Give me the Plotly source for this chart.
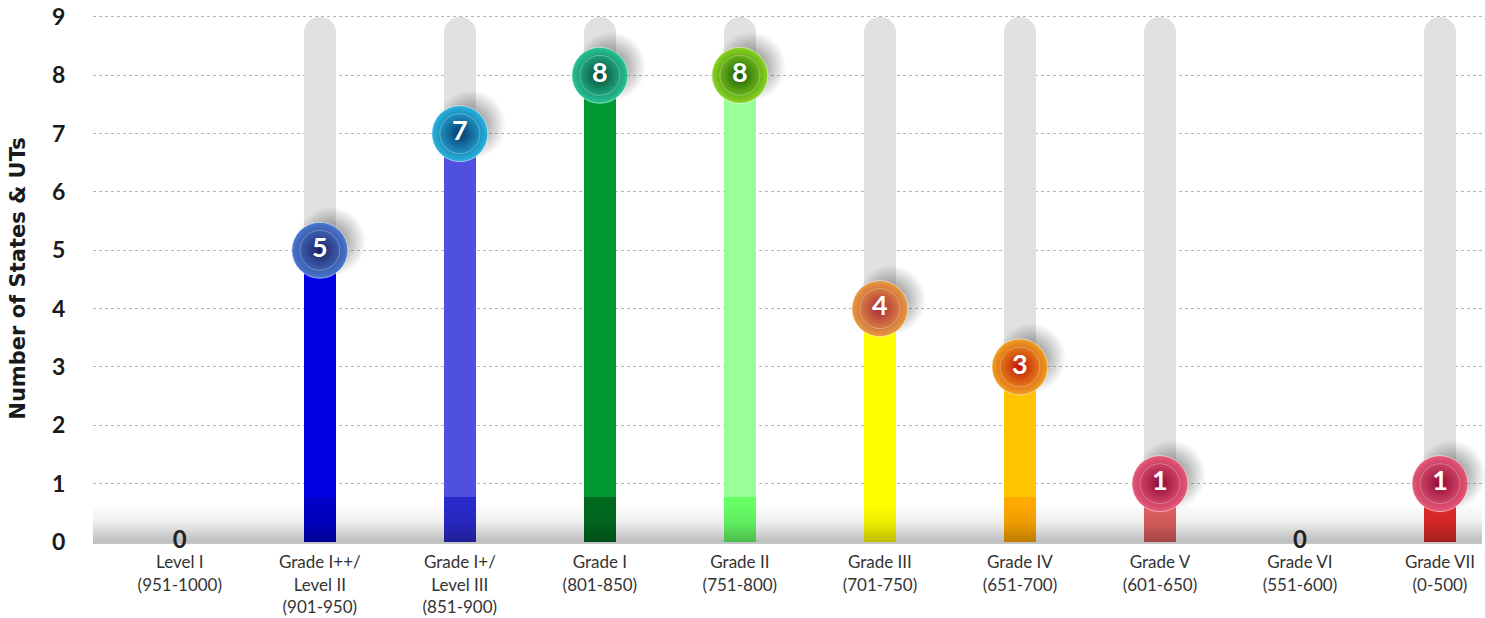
import plotly.graph_objects as go

# ---------------- data ----------------
categories = [
    "Level I<br>(951-1000)",
    "Grade I++/<br>Level II<br>(901-950)",
    "Grade I+/<br>Level III<br>(851-900)",
    "Grade I<br>(801-850)",
    "Grade II<br>(751-800)",
    "Grade III<br>(701-750)",
    "Grade IV<br>(651-700)",
    "Grade V<br>(601-650)",
    "Grade VI<br>(551-600)",
    "Grade VII<br>(0-500)",
]
values = [0, 5, 7, 8, 8, 4, 3, 1, 0, 1]
y_ticks = [0, 1, 2, 3, 4, 5, 6, 7, 8, 9]

# ---------------- styles ----------------
bar_colors = ["#0000e0", "#0000e0", "#5050e0", "#009933", "#99ff99",
              "#ffff00", "#ffc400", "#e86464", "#e03030", "#e83030"]
bottom_colors = ["#0000c8", "#0000c8", "#2a2acc", "#006b1f", "#66ff66",
                 "#ffff00", "#ffa800", "#e06060", "#e02a2a", "#e02a2a"]
ball_center = ["#1b2060", "#1b2060", "#06386e", "#064a34", "#165a04",
               "#a8283e", "#c01408", "#900836", "#900836", "#900836"]
ball_edge = ["#4a78d0", "#4a78d0", "#28b4e0", "#26c494", "#8ad422",
             "#e89a40", "#f0a020", "#e65a78", "#e65a78", "#e65a78"]

Y_MAX = 9
Y_TOP = 9.034
BAR_W = 0.228
BOTTOM_SEG = 0.78
BAND_TOP = 0.67
X_RANGE = [-0.62, 9.3]
FONT = "Lato"

n = len(categories)
xs = list(range(n))
nz = [i for i in xs if values[i] > 0]
zero = [i for i in xs if values[i] == 0]

fig = go.Figure()

# gray tracks
fig.add_trace(go.Bar(
    x=nz, y=[Y_MAX for _ in nz], width=BAR_W,
    marker=dict(color="#e1e1e1", cornerradius=16, line=dict(width=0)),
    hoverinfo="skip", showlegend=False))

# coloured bars
fig.add_trace(go.Bar(
    x=nz, y=[values[i] for i in nz], width=BAR_W,
    marker=dict(color=[bar_colors[i] for i in nz], line=dict(width=0)),
    hoverinfo="skip", showlegend=False))

# darker bottom segment
fig.add_trace(go.Bar(
    x=nz, y=[min(values[i], BOTTOM_SEG) for i in nz], width=BAR_W,
    marker=dict(color=[bottom_colors[i] for i in nz], line=dict(width=0)),
    hoverinfo="skip", showlegend=False))

# bottom gray gradient band
fig.add_trace(go.Scatter(
    x=[X_RANGE[0], X_RANGE[1], X_RANGE[1], X_RANGE[0], X_RANGE[0]],
    y=[0, 0, BAND_TOP, BAND_TOP, 0],
    mode="lines", line=dict(width=0), fill="toself",
    fillgradient=dict(type="vertical", start=0, stop=BAND_TOP,
                      colorscale=[[0, "rgba(0,0,0,0.26)"], [0.5, "rgba(0,0,0,0.07)"],
                                  [1, "rgba(0,0,0,0)"]]),
    hoverinfo="skip", showlegend=False))

# soft shadows of balls (radial: marker.color = rim, gradient.color = centre)
fig.add_trace(go.Scatter(
    x=[i + 0.08 for i in nz], y=[values[i] + 0.15 for i in nz], mode="markers",
    marker=dict(size=70, color="rgba(0,0,0,0)",
                gradient=dict(type="radial", color="rgba(0,0,0,0.55)"),
                line=dict(width=0)),
    hoverinfo="skip", showlegend=False, cliponaxis=False))

# balls
fig.add_trace(go.Scatter(
    x=nz, y=[values[i] for i in nz], mode="markers+text",
    marker=dict(size=56, color=[ball_edge[i] for i in nz],
                gradient=dict(type="radial", color=[ball_center[i] for i in nz]),
                line=dict(width=1, color="rgba(255,255,255,0.5)")),
    text=[str(values[i]) for i in nz], textposition="middle center",
    textfont=dict(family=FONT, size=27, color="white", weight="bold"),
    hoverinfo="skip", showlegend=False, cliponaxis=False))

# inner ring
fig.add_trace(go.Scatter(
    x=nz, y=[values[i] for i in nz], mode="markers",
    marker=dict(size=40, color="rgba(0,0,0,0)",
                line=dict(width=1, color="rgba(255,255,255,0.28)")),
    hoverinfo="skip", showlegend=False, cliponaxis=False))

# zero labels
fig.add_trace(go.Scatter(
    x=zero, y=[values[i] for i in zero], mode="text",
    text=[str(values[i]) for i in zero], textposition="middle center",
    textfont=dict(family=FONT, size=24, color="#222", weight="bold"),
    hoverinfo="skip", showlegend=False, cliponaxis=False))

fig.update_layout(
    width=1485, height=618,
    margin=dict(l=93, r=3, t=15, b=76),
    paper_bgcolor="white", plot_bgcolor="white",
    barmode="overlay", bargap=0,
    font=dict(family=FONT),
    xaxis=dict(
        range=X_RANGE, tickvals=xs, ticktext=categories,
        tickfont=dict(family=FONT, size=17, color="#333"),
        showgrid=False, zeroline=False,
        showline=True, linecolor="#c4c4c4", linewidth=2,
        ticks="outside", ticklen=4, tickcolor="rgba(0,0,0,0)",
        layer="below traces",
        automargin=False, fixedrange=True),
    yaxis=dict(
        range=[0, Y_TOP], tickvals=y_ticks,
        tickfont=dict(family=FONT, size=23, color="#1a1a1a", weight="bold"),
        showgrid=True, gridcolor="#b4b4b4", griddash="dot", gridwidth=1,
        zeroline=False, showline=False,
        ticks="outside", ticklen=22, tickcolor="rgba(0,0,0,0)",
        title=dict(text="Number of States & UTs",
                   font=dict(family="DejaVu Sans", size=21, color="#1a1a1a", weight="bold"),
                   standoff=20),
        automargin=False, fixedrange=True),
)

# remove the default 8px page margin so the figure sits at the window's corner
fig.write_html("out.html", config={"displayModeBar": False},
               post_script="document.body.style.margin='0';")
